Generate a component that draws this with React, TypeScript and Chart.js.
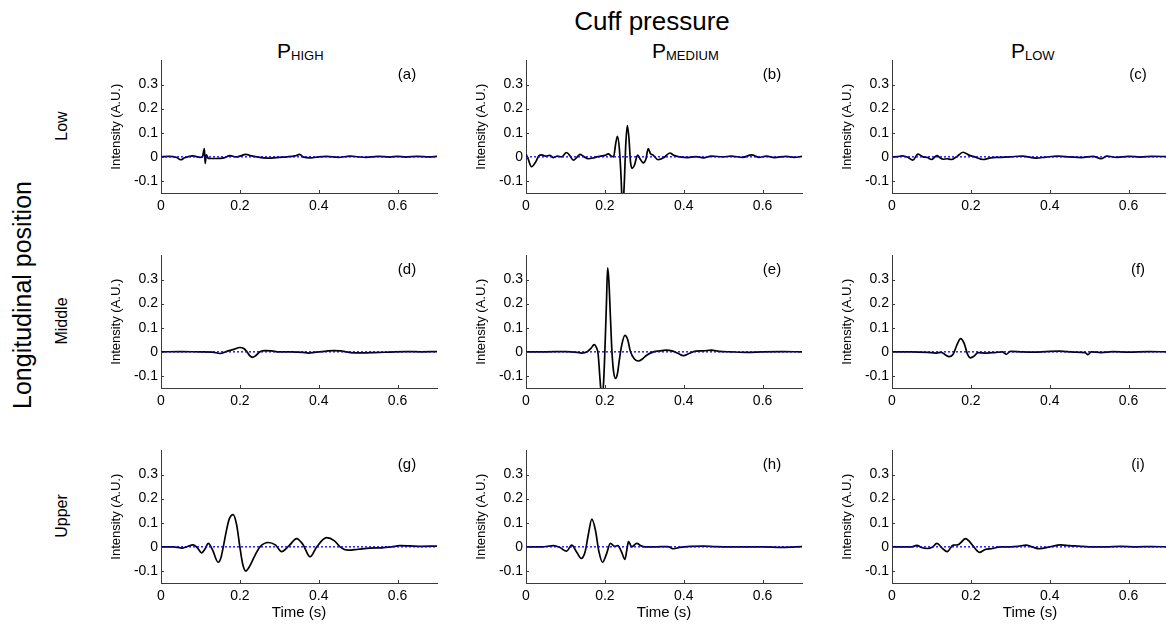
import React, { useEffect, useRef } from "react";
import { Chart, registerables } from "chart.js";

Chart.register(...registerables);

const FONT = "'Liberation Sans', Arial, Helvetica, sans-serif";
const AXIS_COLOR = "#3a3a3a";

// Axis ranges and tick values
const X_MIN = 0;
const X_MAX = 0.7;
const Y_MIN = -0.15;
const Y_MAX = 0.4;
const xTickValues = [0, 0.2, 0.4, 0.6];
const yTickValues = [-0.1, 0, 0.1, 0.2, 0.3];

// Labels
const figureTitle = "Cuff pressure";
const figureRowTitle = "Longitudinal position";
const columnSubscripts = ["HIGH", "MEDIUM", "LOW"];
const rowTitles = ["Low", "Middle", "Upper"];
const panelLetters = ["(a)", "(b)", "(c)", "(d)", "(e)", "(f)", "(g)", "(h)", "(i)"];
const yAxisTitle = "Intensity (A.U.)";
const xAxisTitle = "Time (s)";

// (a) Low / P_HIGH
const tA = [0, 0.02, 0.04, 0.05, 0.06, 0.08, 0.1, 0.105, 0.11, 0.112, 0.115, 0.12, 0.14, 0.16, 0.175, 0.19, 0.2, 0.215, 0.23, 0.26, 0.28, 0.3, 0.32, 0.34, 0.352, 0.36, 0.38, 0.4, 0.42, 0.45, 0.48, 0.5, 0.52, 0.55, 0.58, 0.6, 0.62, 0.65, 0.68, 0.7];
const vA = [0, 0.002, -0.003, -0.012, -0.004, 0.004, -0.002, 0.0, 0.034, -0.027, 0.008, -0.006, -0.007, -0.004, 0.005, 0.0, 0.003, 0.01, 0.004, -0.004, -0.005, -0.002, 0.0, 0.004, 0.01, 0.0, -0.004, 0.0, 0.002, -0.002, 0.003, 0.0, -0.002, 0.002, -0.001, 0.002, -0.001, 0.002, 0.0, 0.002];

// (b) Low / P_MEDIUM
const tB = [0, 0.005, 0.014, 0.025, 0.032, 0.04, 0.05, 0.06, 0.07, 0.08, 0.09, 0.103, 0.112, 0.12, 0.13, 0.137, 0.145, 0.158, 0.17, 0.18, 0.19, 0.2, 0.209, 0.216, 0.222, 0.228, 0.232, 0.237, 0.241, 0.245, 0.249, 0.253, 0.257, 0.261, 0.265, 0.269, 0.275, 0.283, 0.29, 0.297, 0.304, 0.31, 0.316, 0.322, 0.335, 0.35, 0.365, 0.375, 0.39, 0.41, 0.43, 0.45, 0.47, 0.5, 0.52, 0.55, 0.572, 0.59, 0.61, 0.63, 0.66, 0.68, 0.7];
const vB = [0.011, -0.007, -0.041, -0.02, 0.003, 0.008, 0.003, 0.006, -0.003, 0.003, 0.0, 0.018, 0.003, -0.014, 0.0, 0.01, 0.003, -0.008, -0.005, 0.0, 0.003, 0.006, 0.012, 0.003, 0.0, 0.06, 0.085, 0.03, -0.08, -0.22, -0.12, 0.05, 0.13, 0.08, -0.02, -0.048, -0.035, 0.007, -0.01, -0.025, -0.01, 0.034, 0.012, 0.008, -0.012, -0.003, 0.016, 0.006, 0.0, -0.003, 0.001, -0.004, 0.003, 0.0, 0.003, -0.002, 0.008, -0.002, 0.003, -0.003, 0.002, -0.002, 0.002];

// (c) Low / P_LOW
const tC = [0, 0.015, 0.026, 0.04, 0.053, 0.066, 0.079, 0.09, 0.1, 0.114, 0.122, 0.129, 0.14, 0.15, 0.165, 0.18, 0.197, 0.21, 0.231, 0.25, 0.27, 0.3, 0.33, 0.366, 0.39, 0.42, 0.45, 0.48, 0.51, 0.53, 0.545, 0.57, 0.6, 0.63, 0.66, 0.7];
const vC = [0, 0.001, 0.004, -0.002, -0.014, 0.011, 0.0, -0.003, -0.011, 0.005, -0.004, -0.01, -0.008, -0.011, 0.002, 0.019, 0.006, 0.0, -0.011, -0.004, -0.002, 0.0, 0.003, -0.005, -0.001, 0.003, 0.0, -0.003, 0.002, -0.008, 0.003, -0.002, 0.002, -0.001, 0.002, 0.001];

// (d) Middle / P_HIGH
const tD = [0, 0.05, 0.1, 0.13, 0.15, 0.17, 0.185, 0.2, 0.21, 0.218, 0.225, 0.232, 0.24, 0.251, 0.265, 0.28, 0.3, 0.33, 0.36, 0.374, 0.39, 0.42, 0.437, 0.455, 0.48, 0.51, 0.54, 0.58, 0.62, 0.66, 0.7];
const vD = [0, 0.001, 0.0, -0.001, -0.007, 0.004, 0.01, 0.018, 0.014, 0.0, -0.016, -0.023, -0.016, 0.0, 0.005, 0.004, 0.0, 0.0, -0.002, -0.005, -0.002, 0.003, 0.005, 0.004, -0.003, -0.004, -0.003, -0.001, 0.001, 0.0, 0.001];

// (e) Middle / P_MEDIUM
const tE = [0, 0.05, 0.1, 0.13, 0.141, 0.155, 0.165, 0.173, 0.178, 0.183, 0.188, 0.193, 0.197, 0.2, 0.204, 0.207, 0.21, 0.214, 0.218, 0.222, 0.227, 0.232, 0.237, 0.243, 0.251, 0.258, 0.265, 0.275, 0.285, 0.295, 0.305, 0.323, 0.34, 0.355, 0.37, 0.385, 0.399, 0.415, 0.43, 0.45, 0.47, 0.49, 0.52, 0.56, 0.6, 0.65, 0.7];
const vE = [0, 0.0, 0.001, -0.002, -0.005, 0.0, 0.015, 0.03, 0.02, -0.01, -0.12, -0.2, -0.12, 0.0, 0.2, 0.348, 0.3, 0.15, 0.0, -0.08, -0.11, -0.09, -0.03, 0.03, 0.068, 0.05, 0.0, -0.03, -0.038, -0.03, -0.015, 0.0, 0.004, 0.007, 0.004, -0.006, -0.016, -0.006, 0.003, 0.004, 0.007, 0.002, 0.0, -0.002, 0.0, 0.001, 0.0];

// (f) Middle / P_LOW
const tF = [0, 0.05, 0.09, 0.112, 0.125, 0.135, 0.145, 0.155, 0.165, 0.174, 0.183, 0.192, 0.199, 0.208, 0.218, 0.24, 0.26, 0.28, 0.29, 0.3, 0.33, 0.36, 0.39, 0.425, 0.46, 0.49, 0.497, 0.505, 0.53, 0.56, 0.6, 0.65, 0.7];
const vF = [0, 0.0, -0.002, -0.005, -0.002, -0.012, -0.02, -0.01, 0.03, 0.055, 0.035, -0.012, -0.025, -0.018, -0.003, -0.005, -0.003, 0.0, -0.01, 0.002, 0.0, -0.001, 0.001, 0.003, -0.001, -0.003, -0.012, 0.0, -0.003, 0.001, -0.001, 0.001, 0.0];

// (g) Upper / P_HIGH
const tG = [0, 0.03, 0.055, 0.065, 0.082, 0.093, 0.103, 0.112, 0.12, 0.13, 0.145, 0.152, 0.158, 0.165, 0.173, 0.183, 0.192, 0.2, 0.207, 0.215, 0.225, 0.24, 0.251, 0.272, 0.29, 0.306, 0.325, 0.344, 0.36, 0.378, 0.395, 0.42, 0.44, 0.454, 0.475, 0.5, 0.53, 0.56, 0.585, 0.606, 0.63, 0.66, 0.7];
const vG = [0, 0.0, -0.005, 0.0, 0.008, -0.005, -0.025, -0.008, 0.014, -0.01, -0.064, -0.045, 0.0, 0.06, 0.115, 0.134, 0.09, 0.0, -0.07, -0.1, -0.08, -0.03, 0.0, 0.018, 0.008, -0.02, 0.005, 0.034, 0.01, -0.041, 0.0, 0.038, 0.025, 0.0, -0.014, -0.01, -0.005, -0.004, 0.0, 0.005, 0.004, 0.002, 0.003];

// (h) Upper / P_MEDIUM
const tH = [0, 0.04, 0.07, 0.085, 0.103, 0.116, 0.128, 0.14, 0.15, 0.158, 0.167, 0.176, 0.185, 0.194, 0.204, 0.214, 0.225, 0.233, 0.242, 0.251, 0.256, 0.26, 0.268, 0.281, 0.292, 0.302, 0.33, 0.36, 0.374, 0.39, 0.42, 0.45, 0.48, 0.52, 0.56, 0.6, 0.65, 0.7];
const vH = [0, 0.0, 0.005, -0.002, -0.018, 0.007, -0.02, -0.048, -0.02, 0.05, 0.115, 0.07, -0.02, -0.064, -0.03, 0.014, 0.002, 0.005, -0.02, -0.052, -0.01, 0.022, 0.0, 0.014, 0.004, 0.0, 0.0, 0.001, -0.008, -0.002, 0.002, 0.003, 0.001, 0.0, 0.0, 0.0, -0.002, 0.001];

// (i) Upper / P_LOW
const tI = [0, 0.03, 0.05, 0.063, 0.075, 0.09, 0.102, 0.114, 0.127, 0.14, 0.155, 0.167, 0.176, 0.186, 0.195, 0.205, 0.215, 0.222, 0.235, 0.255, 0.275, 0.3, 0.32, 0.34, 0.355, 0.374, 0.4, 0.428, 0.45, 0.47, 0.5, 0.54, 0.58, 0.62, 0.66, 0.7];
const vI = [0, 0.0, 0.0, 0.006, -0.003, -0.007, -0.002, 0.014, -0.005, -0.02, 0.007, 0.008, 0.02, 0.034, 0.025, 0.005, -0.015, -0.023, -0.012, -0.007, 0.0, 0.0, 0.002, 0.007, 0.0, -0.008, 0.0, 0.008, 0.005, 0.003, 0.0, 0.0, 0.002, 0.0, 0.001, 0.0];

const panelTimes = [tA, tB, tC, tD, tE, tF, tG, tH, tI];
const panelValues = [vA, vB, vC, vD, vE, vF, vG, vH, vI];

// Layout (pixels)
const AXIS_LEFTS = [161, 526, 892];
const AXIS_TOPS = [59, 254, 449];
const PLOT_W = 276;
const PLOT_H = 134;
const Y_AREA = 60;
const X_AREA = 42;
const PAD_TOP = 10;
const PAD_RIGHT = 10;
const COL_TITLE_LEFTS = [277, 652, 1011];
const ROW_LABEL_X = 62;

const fmt = (v: number) => {
  const r = Math.round(v * 10) / 10;
  return r === 0 ? "0" : String(r);
};

type PanelProps = { idx: number };

function Panel({ idx }: PanelProps) {
  const ref = useRef<HTMLCanvasElement | null>(null);
  const row = Math.floor(idx / 3);
  const col = idx % 3;
  const canvasLeft = AXIS_LEFTS[col] - Y_AREA;
  const canvasTop = AXIS_TOPS[row] - PAD_TOP;
  const width = Y_AREA + PLOT_W + PAD_RIGHT;
  const height = PAD_TOP + PLOT_H + X_AREA;

  useEffect(() => {
    if (!ref.current) return;
    const t = panelTimes[idx];
    const v = panelValues[idx];
    const letter = panelLetters[idx];
    const showXTitle = row === 2;

    const decor = {
      id: "panelDecor",
      afterDatasetsDraw(chart: any) {
        const { ctx, chartArea, scales } = chart;
        const xs = scales.x;
        const ys = scales.y;
        ctx.save();
        ctx.strokeStyle = AXIS_COLOR;
        ctx.lineWidth = 1;
        ctx.beginPath();
        xTickValues.forEach((val) => {
          const px = Math.round(xs.getPixelForValue(val)) + 0.5;
          ctx.moveTo(px, chartArea.bottom);
          ctx.lineTo(px, chartArea.bottom - 3);
        });
        yTickValues.forEach((val) => {
          const py = Math.round(ys.getPixelForValue(val)) + 0.5;
          ctx.moveTo(chartArea.left, py);
          ctx.lineTo(chartArea.left + 3, py);
        });
        ctx.stroke();
        ctx.fillStyle = "#000";
        ctx.font = `15px ${FONT}`;
        ctx.textAlign = "center";
        ctx.textBaseline = "middle";
        ctx.fillText(letter, chartArea.left + 246, chartArea.top + 14);
        ctx.restore();
      },
    };

    const chart = new Chart(ref.current, {
      type: "line",
      data: {
        datasets: [
          {
            data: t.map((x, i) => ({ x, y: v[i] })),
            borderColor: "#000000",
            borderWidth: 1.7,
            pointRadius: 0,
            cubicInterpolationMode: "monotone",
            fill: false,
            order: 1,
          },
          {
            data: [
              { x: X_MIN, y: 0 },
              { x: X_MAX, y: 0 },
            ],
            borderColor: "#0000ff",
            borderWidth: 1.3,
            borderDash: [2, 2],
            pointRadius: 0,
            fill: false,
            order: 0,
          },
        ],
      },
      options: {
        animation: false,
        responsive: false,
        maintainAspectRatio: false,
        events: [],
        layout: { padding: { top: PAD_TOP, right: PAD_RIGHT, left: 0, bottom: 0 } },
        plugins: {
          legend: { display: false },
          tooltip: { enabled: false },
          title: { display: false },
        },
        scales: {
          x: {
            type: "linear",
            min: X_MIN,
            max: X_MAX,
            grid: { display: false, drawTicks: false },
            border: { display: true, color: AXIS_COLOR, width: 1 },
            afterBuildTicks: (s: any) => {
              s.ticks = xTickValues.map((value) => ({ value }));
            },
            afterFit: (s: any) => {
              s.height = X_AREA;
            },
            ticks: {
              color: "#000",
              font: { family: FONT, size: 14 },
              padding: 5,
              maxRotation: 0,
              autoSkip: false,
              callback: (val: any) => fmt(Number(val)),
            },
            title: {
              display: showXTitle,
              text: xAxisTitle,
              color: "#000",
              font: { family: FONT, size: 15 },
              padding: { top: 0, bottom: 3 },
            },
          },
          y: {
            type: "linear",
            min: Y_MIN,
            max: Y_MAX,
            grid: { display: false, drawTicks: false },
            border: { display: true, color: AXIS_COLOR, width: 1 },
            afterBuildTicks: (s: any) => {
              s.ticks = yTickValues.map((value) => ({ value }));
            },
            afterFit: (s: any) => {
              s.width = Y_AREA;
            },
            ticks: {
              color: "#000",
              font: { family: FONT, size: 14 },
              padding: 3,
              autoSkip: false,
              callback: (val: any) => fmt(Number(val)),
            },
            title: {
              display: true,
              text: yAxisTitle,
              color: "#000",
              font: { family: FONT, size: 13 },
              padding: { top: 8, bottom: 0 },
            },
          },
        },
      } as any,
      plugins: [decor],
    });
    return () => chart.destroy();
  }, [idx]);

  return (
    <canvas
      ref={ref}
      width={width}
      height={height}
      style={{ position: "absolute", left: canvasLeft, top: canvasTop, width, height }}
    />
  );
}

export default function App() {
  return (
    <div
      style={{
        position: "absolute",
        left: 0,
        top: 0,
        width: 1166,
        height: 626,
        overflow: "hidden",
        background: "#fff",
        fontFamily: FONT,
        color: "#000",
      }}
    >
      <div
        style={{
          position: "absolute",
          left: 652,
          top: 8,
          transform: "translateX(-50%)",
          fontSize: 26,
          lineHeight: "26px",
          whiteSpace: "nowrap",
        }}
      >
        {figureTitle}
      </div>
      {columnSubscripts.map((sub, i) => (
        <div
          key={sub}
          style={{
            position: "absolute",
            left: COL_TITLE_LEFTS[i],
            top: 40,
            fontSize: 21,
            lineHeight: "21px",
            whiteSpace: "nowrap",
          }}
        >
          P<span style={{ fontSize: 13, position: "relative", top: 2 }}>{sub}</span>
        </div>
      ))}
      <div
        style={{
          position: "absolute",
          left: 22,
          top: 295,
          transform: "translate(-50%, -50%) rotate(-90deg)",
          fontSize: 25,
          lineHeight: "25px",
          whiteSpace: "nowrap",
        }}
      >
        {figureRowTitle}
      </div>
      {rowTitles.map((r, i) => (
        <div
          key={r}
          style={{
            position: "absolute",
            left: ROW_LABEL_X,
            top: AXIS_TOPS[i] + PLOT_H / 2,
            transform: "translate(-50%, -50%) rotate(-90deg)",
            fontSize: 16,
            lineHeight: "16px",
            whiteSpace: "nowrap",
          }}
        >
          {r}
        </div>
      ))}
      {panelTimes.map((_, i) => (
        <Panel key={i} idx={i} />
      ))}
    </div>
  );
}
